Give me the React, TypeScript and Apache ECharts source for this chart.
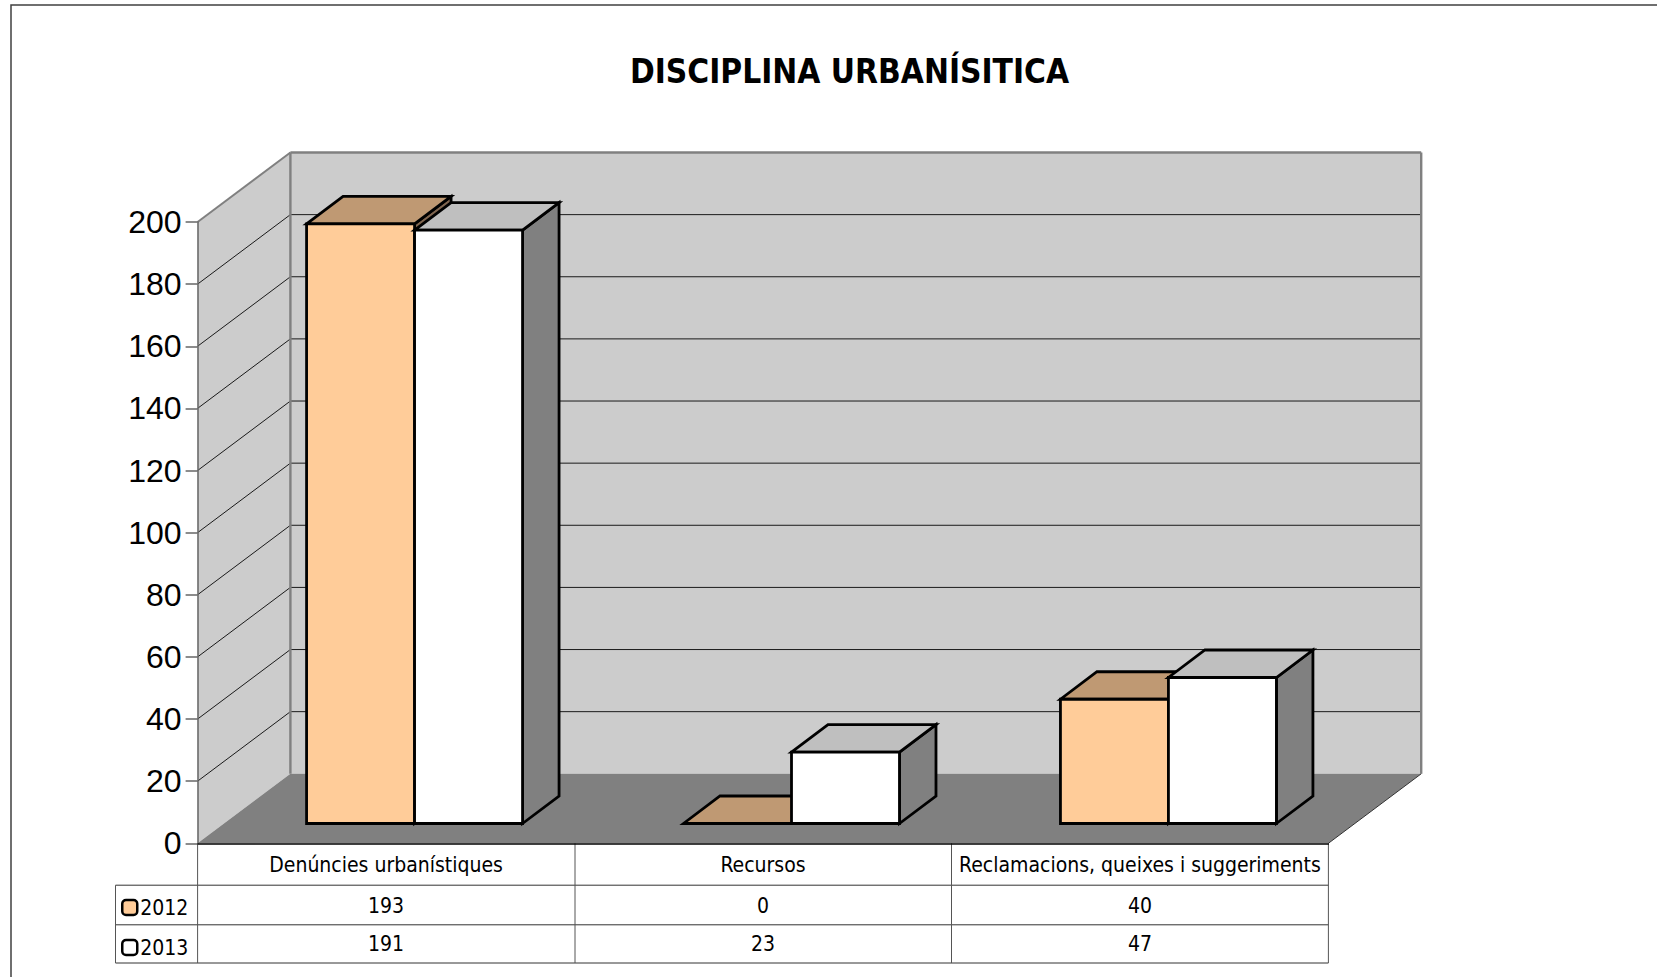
import React, { useEffect, useRef } from "react";
import * as echarts from "echarts";

const titleText = "DISCIPLINA URBANÍSITICA";
const categories = ["Denúncies urbanístiques", "Recursos", "Reclamacions, queixes i suggeriments"];
const years = ["2012", "2013"];
const values2012 = [193, 0, 40];
const values2013 = [191, 23, 47];
const wallTicks = [20, 40, 60, 80, 100, 120, 140, 160, 180, 200];

const W = 1657;
const H = 977;
const GRID = { left: 197.6, right: 1328.4, top: 222, bottom: 843.3 };
const DX = 92.8;
const DY = 69.5;
const BAR_START_X = 28.5;
const BAR_START_Y = 19.8;
const BAR_DEPTH_X = 36.5;
const BAR_DEPTH_Y = 27.5;
const BAR_RATIO = 0.2865;
const BAR_STROKE = 2.8;
const ROWS_Y = [885.2, 924.8, 963];
const TABLE_LEFT = 115.5;
const CELL_FONT = '21px "DejaVu Sans Condensed"';

const FACE = [
  { front: "#ffcc99", top: "#bf9973", side: "#806650" },
  { front: "#ffffff", top: "#bfbfbf", side: "#808080" },
];

function poly(points: number[][], fill: string, stroke?: string, lineWidth = BAR_STROKE) {
  return {
    type: "polygon",
    shape: { points },
    style: { fill, stroke: stroke || "none", lineWidth, lineJoin: "miter" },
  };
}
function seg(a: number[], b: number[], stroke: string, lineWidth: number) {
  return {
    type: "line",
    shape: { x1: a[0], y1: a[1], x2: b[0], y2: b[1] },
    style: { stroke, lineWidth },
  };
}

function barSeries(name: string, values: number[], idx: number) {
  const c = FACE[idx];
  return {
    name,
    type: "custom",
    coordinateSystem: "cartesian2d",
    z: 5 + idx,
    itemStyle: { color: c.front, borderColor: "#000", borderWidth: 2.5 },
    encode: { x: 0, y: 1 },
    data: values.map((v, i) => [i, v]),
    renderItem(_p: any, api: any) {
      const cat = api.value(0);
      const band = api.size([1, 0])[0];
      const w = band * BAR_RATIO;
      const base = api.coord([cat, 0]);
      const topP = api.coord([cat, api.value(1)]);
      const x0 = base[0] + BAR_START_X - w + idx * w;
      const x1 = x0 + w;
      const y0 = base[1] - BAR_START_Y;
      const y1 = topP[1] - BAR_START_Y;
      const dx = BAR_DEPTH_X;
      const dy = BAR_DEPTH_Y;
      return {
        type: "group",
        children: [
          poly([[x1, y0], [x1 + dx, y0 - dy], [x1 + dx, y1 - dy], [x1, y1]], c.side, "#000"),
          poly([[x0, y1], [x1, y1], [x1 + dx, y1 - dy], [x0 + dx, y1 - dy]], c.top, "#000"),
          poly([[x0, y0], [x1, y0], [x1, y1], [x0, y1]], c.front, "#000"),
        ],
      };
    },
  };
}

function wallSeries() {
  return {
    type: "custom",
    coordinateSystem: "cartesian2d",
    silent: true,
    z: 1,
    encode: { x: 0, y: 1 },
    data: [[0, 0]],
    renderItem(_p: any, api: any) {
      const band = api.size([1, 0])[0];
      const lastCat = categories.length - 1;
      const xl = api.coord([0, 0])[0] - band / 2;
      const xr = api.coord([lastCat, 0])[0] + band / 2;
      const y0 = api.coord([0, 0])[1];
      const yT = api.coord([0, 200])[1];
      const children: any[] = [
        poly([[xl, yT], [xl + DX, yT - DY], [xl + DX, y0 - DY], [xl, y0]], "#cccccc"),
        poly([[xl + DX, yT - DY], [xr + DX, yT - DY], [xr + DX, y0 - DY], [xl + DX, y0 - DY]], "#cccccc"),
        poly([[xl, y0], [xl + DX, y0 - DY], [xr + DX, y0 - DY], [xr, y0]], "#808080"),
      ];
      wallTicks.forEach((t) => {
        const y = api.coord([0, t])[1];
        if (t < 200) {
          children.push(seg([xl, y], [xl + DX, y - DY], "#1a1a1a", 1));
          children.push(seg([xl + DX, y - DY], [xr + DX, y - DY], "#1a1a1a", 1));
        }
      });
      children.push(seg([xl, yT], [xl + DX, yT - DY], "#808080", 2));
      children.push(seg([xl + DX, yT - DY], [xr + DX, yT - DY], "#808080", 2.4));
      children.push(seg([xl + DX, yT - DY], [xl + DX, y0 - DY], "#808080", 2.4));
      children.push(seg([xr + DX, yT - DY], [xr + DX, y0 - DY], "#808080", 2.4));
      children.push(seg([xr, y0], [xr + DX, y0 - DY], "#333333", 1));
      return { type: "group", children };
    },
  };
}

function tableSeries() {
  const cells: number[][] = [];
  [values2012, values2013].forEach((row, r) => row.forEach((v, i) => cells.push([i, v, r])));
  return {
    type: "custom",
    coordinateSystem: "cartesian2d",
    silent: true,
    z: 8,
    clip: false,
    encode: { x: 0 },
    data: cells,
    renderItem(_p: any, api: any) {
      const x = api.coord([api.value(0), 0])[0];
      const r = api.value(2);
      return {
        type: "text",
        style: {
          x,
          y: (ROWS_Y[r] + ROWS_Y[r + 1]) / 2 + 0.5,
          text: String(api.value(1)),
          font: CELL_FONT,
          fill: "#000",
          align: "center",
          verticalAlign: "middle",
        },
      };
    },
  };
}

function tableLines() {
  const xs = [GRID.left, 575, 951.5, GRID.right];
  const out: any[] = [];
  ROWS_Y.forEach((y) => {
    out.push({ type: "line", z: 9, shape: { x1: TABLE_LEFT, y1: y, x2: GRID.right, y2: y }, style: { stroke: "#333", lineWidth: 1 } });
  });
  out.push({ type: "line", z: 9, shape: { x1: TABLE_LEFT, y1: ROWS_Y[0], x2: TABLE_LEFT, y2: ROWS_Y[2] }, style: { stroke: "#555", lineWidth: 1 } });
  xs.forEach((x) => {
    out.push({ type: "line", z: 9, shape: { x1: x, y1: GRID.bottom, x2: x, y2: ROWS_Y[2] }, style: { stroke: "#555", lineWidth: 1 } });
  });
  return out;
}

export default function App() {
  const ref = useRef<HTMLDivElement>(null);
  useEffect(() => {
    const chart = echarts.init(ref.current!, undefined, { renderer: "svg" });
    chart.setOption({
      animation: false,
      backgroundColor: "#fff",
      title: {
        text: titleText,
        left: 844.5,
        top: 50,
        textAlign: "center",
        textStyle: { fontFamily: "DejaVu Sans Condensed", fontWeight: "bold", fontSize: 33.2, color: "#000" },
      },
      grid: {
        left: GRID.left,
        top: GRID.top,
        width: GRID.right - GRID.left,
        height: GRID.bottom - GRID.top,
      },
      legend: {
        data: years,
        orient: "vertical",
        left: 116,
        top: 892,
        itemWidth: 15,
        itemHeight: 15,
        itemGap: 19,
        icon: "roundRect",
        itemStyle: { borderColor: "#000", borderWidth: 2.5 },
        textStyle: { fontFamily: "DejaVu Sans Condensed", fontSize: 21, color: "#000", padding: [0, 0, 0, -2] },
        selectedMode: false,
      },
      xAxis: {
        type: "category",
        data: categories,
        z: 9,
        axisLine: { lineStyle: { color: "#000", width: 1.5 } },
        axisTick: { show: false },
        axisLabel: { interval: 0, margin: 11, fontFamily: "DejaVu Sans Condensed", fontSize: 21, color: "#000" },
      },
      yAxis: {
        type: "value",
        min: 0,
        max: 200,
        interval: 20,
        z: 9,
        axisLine: { show: true, lineStyle: { color: "#666", width: 1.5 } },
        axisTick: { show: true, length: 12, lineStyle: { color: "#666", width: 1.5 } },
        axisLabel: { margin: 16, fontFamily: "Liberation Sans", fontSize: 32, color: "#000" },
        splitLine: { show: false },
      },
      graphic: [
        { type: "polyline", z: 20, shape: { points: [[W, 5], [11, 5], [11, H]] }, style: { fill: "none", stroke: "#404040", lineWidth: 1.5 } },
        ...tableLines(),
      ],
      series: [wallSeries(), barSeries(years[0], values2012, 0), barSeries(years[1], values2013, 1), tableSeries()],
    });
    return () => chart.dispose();
  }, []);
  return <div ref={ref} style={{ position: "fixed", left: 0, top: 0, width: W, height: H }} />;
}
